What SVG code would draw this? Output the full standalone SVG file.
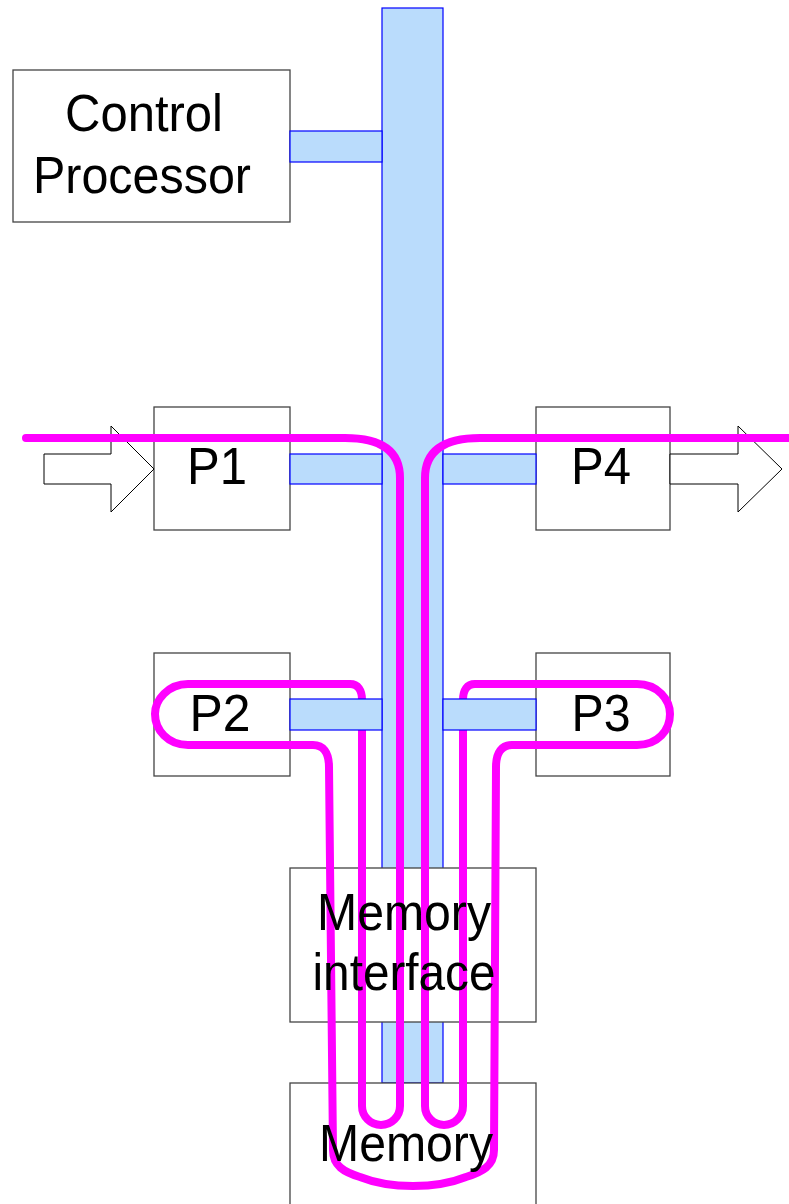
<svg xmlns="http://www.w3.org/2000/svg" width="789" height="1204" viewBox="0 0 789 1204">
<style>
.bus{fill:#badcfc;stroke:#0000ff;stroke-width:1.2}
.box{fill:#ffffff;stroke:#444444;stroke-width:1.3}
.arrow{fill:#ffffff;stroke:#000000;stroke-width:1}
.flow{fill:none;stroke:#ff00ff;stroke-width:8;stroke-linecap:round;stroke-linejoin:round}
.lbl{font-family:"Liberation Sans",Arial,sans-serif;font-size:52px;fill:#000000;text-anchor:middle}
</style>
<rect width="789" height="1204" fill="#ffffff"/>
<g id="connectors-bus">
  <rect class="bus" x="382" y="8" width="61" height="1075"/>
</g>
<g id="node-control"><rect class="box" x="13" y="70" width="277" height="152"/></g>
<g id="node-p1"><rect class="box" x="154" y="407" width="136" height="123"/></g>
<g id="node-p4"><rect class="box" x="536" y="407" width="134" height="123"/></g>
<g id="node-p2"><rect class="box" x="154" y="653" width="136" height="123"/></g>
<g id="node-p3"><rect class="box" x="536" y="653" width="134" height="123"/></g>
<g id="node-memif"><rect class="box" x="290" y="868" width="246" height="154"/></g>
<g id="node-memory"><rect class="box" x="290" y="1083" width="246" height="140"/></g>
<g id="connectors">
  <polygon class="arrow" points="44,454 111,454 111,426 154,469 111,512 111,484 44,484"/>
  <polygon class="arrow" points="670,454 738,454 738,426 782,469 738,512 738,484 670,484"/>
  <path class="flow" d="M26,438 L345,438 C380,438 400,450 400,478 L400,1106 A19,19 0 0 1 362,1106 L362,700 C362,690 358,684 350,684 L188,684 C168,684 155,700 155,714 C155,730 168,745 188,745 L313,745 C323,745 329,752 329,767 L333,1150 C333,1166 344,1172 360,1177 C390,1189 436,1189 466,1177 C482,1172 494,1166 494,1150 L496,767 C496,752 502,745 512,745 L637,745 C658,745 670,730 670,714 C670,700 658,684 637,684 L475,684 C467,684 463,690 463,700 L463,1106 A19,19 0 0 1 425,1106 L425,478 C425,450 445,438 480,438 L800,438"/>
  <rect class="bus" x="290" y="131" width="92" height="31"/>
  <rect class="bus" x="290" y="454" width="92" height="30"/>
  <rect class="bus" x="443" y="454" width="93" height="30"/>
  <rect class="bus" x="290" y="699" width="92" height="31"/>
  <rect class="bus" x="443" y="699" width="93" height="31"/>
</g>
<g id="labels">
  <text class="lbl" x="144" y="131" textLength="158" lengthAdjust="spacingAndGlyphs">Control</text>
  <text class="lbl" x="142" y="193" textLength="218" lengthAdjust="spacingAndGlyphs">Processor</text>
  <text class="lbl" x="217" y="484" textLength="60" lengthAdjust="spacingAndGlyphs">P1</text>
  <text class="lbl" x="601" y="484" textLength="60" lengthAdjust="spacingAndGlyphs">P4</text>
  <text class="lbl" x="220" y="731" textLength="61" lengthAdjust="spacingAndGlyphs">P2</text>
  <text class="lbl" x="601" y="731" textLength="59" lengthAdjust="spacingAndGlyphs">P3</text>
  <text class="lbl" x="404" y="930" textLength="174" lengthAdjust="spacingAndGlyphs">Memory</text>
  <text class="lbl" x="404" y="990" textLength="183" lengthAdjust="spacingAndGlyphs">interface</text>
  <text class="lbl" x="406" y="1161" textLength="174" lengthAdjust="spacingAndGlyphs">Memory</text>
</g>
</svg>
